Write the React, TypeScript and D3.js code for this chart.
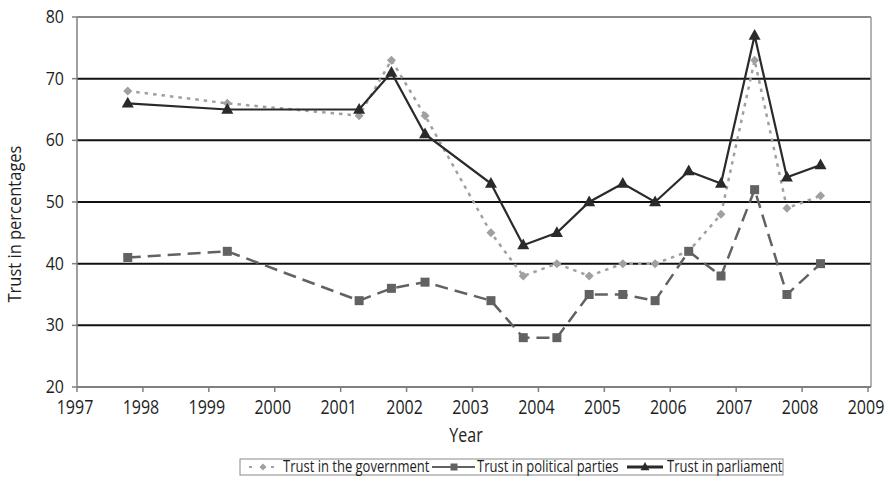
import React from "react";
import * as d3 from "d3";

const years = [1997.77, 1999.28, 2001.28, 2001.77, 2002.28, 2003.28, 2003.77, 2004.28, 2004.77, 2005.28, 2005.77, 2006.28, 2006.77, 2007.28, 2007.77, 2008.28];
const government = [68, 66, 64, 73, 64, 45, 38, 40, 38, 40, 40, 42, 48, 73, 49, 51];
const parties = [41, 42, 34, 36, 37, 34, 28, 28, 35, 35, 34, 42, 38, 52, 35, 40];
const parliament = [66, 65, 65, 71, 61, 53, 43, 45, 50, 53, 50, 55, 53, 77, 54, 56];
const xTicks = [1997, 1998, 1999, 2000, 2001, 2002, 2003, 2004, 2005, 2006, 2007, 2008, 2009];
const yTicks = [20, 30, 40, 50, 60, 70, 80];
const seriesNames = ["Trust in the government", "Trust in political parties", "Trust in parliament"];

const W = 892, H = 478;
const M = { left: 77, right: 21, top: 17, bottom: 91 };
const FONT = "'Open Sans', 'Noto Sans', sans-serif";

export default function App() {
  const x = d3.scaleLinear().domain([1997, 2009]).range([M.left, W - M.right - 3]);
  const y = d3.scaleLinear().domain([20, 80]).range([H - M.bottom, M.top]);
  const line = d3.line<number>().x((_, i) => x(years[i])).y((d) => y(d));
  const plotRight = W - M.right;
  const plotBottom = H - M.bottom;

  const diamond = (cx: number, cy: number, r: number) => `M${cx},${cy - r}L${cx + r},${cy}L${cx},${cy + r}L${cx - r},${cy}Z`;
  const tri = (cx: number, cy: number, r: number) => `M${cx},${cy - r * 1.1}L${cx + r},${cy + r * 0.7}L${cx - r},${cy + r * 0.7}Z`;

  const govColor = "#a0a0a0";
  const parColor = "#626262";
  const parlColor = "#2a2a2a";
  const txt = "#1e1e1e";

  const lx = 240, ly = 459, lw = 543, lh = 16;
  const lcy = ly + lh / 2;
  const S = "scale(1,1.22)";

  return (
    <svg width={W} height={H} style={{ position: "absolute", left: 0, top: 0, background: "#fff" }} fontFamily={FONT}>
      <rect x={0} y={0} width={W} height={H} fill="#fff" />
      {yTicks.filter((t) => t > 20 && t < 80).map((t) => (
        <line key={t} x1={M.left} x2={plotRight} y1={y(t)} y2={y(t)} stroke="#111" strokeWidth={2} />
      ))}
      <line x1={M.left} x2={plotRight} y1={y(80)} y2={y(80)} stroke="#8a8a8a" strokeWidth={2} />
      <line x1={plotRight} x2={plotRight} y1={y(80)} y2={plotBottom} stroke="#9a9a9a" strokeWidth={1.5} />
      <line x1={M.left} x2={M.left} y1={y(80)} y2={plotBottom} stroke="#808080" strokeWidth={1.5} />
      <line x1={M.left} x2={plotRight} y1={plotBottom} y2={plotBottom} stroke="#808080" strokeWidth={2} />
      {yTicks.map((t) => (
        <g key={t}>
          <line x1={M.left - 5} x2={M.left} y1={y(t)} y2={y(t)} stroke="#808080" strokeWidth={1.5} />
          <text transform={`translate(${M.left - 13},${y(t) + 6}) scale(1,1.12)`} textAnchor="end" fontSize={16} fill={txt}>{t}</text>
        </g>
      ))}
      {xTicks.map((t) => (
        <g key={t}>
          <line x1={x(t)} x2={x(t)} y1={plotBottom} y2={plotBottom + 5} stroke="#808080" strokeWidth={1.5} />
          <text transform={`translate(${x(t) - 2},${413.5}) ${S}`} textAnchor="middle" fontSize={16} fill={txt}>{t}</text>
        </g>
      ))}
      <text transform={`translate(466,442) ${S}`} textAnchor="middle" fontSize={16} fill={txt}>Year</text>
      <text transform={`translate(21,224) rotate(-90) scale(1,1.1)`} textAnchor="middle" fontSize={16.5} fill={txt}>Trust in percentages</text>

      <path d={line(government) || ""} fill="none" stroke={govColor} strokeWidth={2.5} strokeDasharray="3.5,5" />
      <path d={line(parties) || ""} fill="none" stroke={parColor} strokeWidth={2.5} strokeDasharray="13,7" />
      <path d={line(parliament) || ""} fill="none" stroke={parlColor} strokeWidth={2.2} />
      {government.map((v, i) => (
        <path key={"g" + i} d={diamond(x(years[i]), y(v), 4.5)} fill={govColor} />
      ))}
      {parties.map((v, i) => (
        <rect key={"p" + i} x={x(years[i]) - 4.5} y={y(v) - 4.5} width={9} height={9} fill={parColor} />
      ))}
      {parliament.map((v, i) => (
        <path key={"t" + i} d={tri(x(years[i]), y(v), 6)} fill={parlColor} />
      ))}

      <rect x={lx} y={ly} width={lw} height={lh} fill="#fff" stroke="#8a8a8a" strokeWidth={1} />
      <line x1={248} x2={280} y1={lcy} y2={lcy} stroke={govColor} strokeWidth={1.8} strokeDasharray="3,8" strokeDashoffset={-1} />
      <path d={diamond(263, lcy, 3.5)} fill={govColor} />
      <text transform={`translate(283,${lcy + 4.5}) ${S}`} fontSize={13} fill={txt}>{seriesNames[0]}</text>
      <line x1={432} x2={475} y1={lcy} y2={lcy} stroke={parColor} strokeWidth={1.8} />
      <rect x={450.5} y={lcy - 3.5} width={7} height={7} fill={parColor} />
      <text transform={`translate(477,${lcy + 4.5}) ${S}`} fontSize={13} fill={txt}>{seriesNames[1]}</text>
      <line x1={627} x2={663} y1={lcy} y2={lcy} stroke={parlColor} strokeWidth={3} />
      <path d={tri(645, lcy, 4.5)} fill={parlColor} />
      <text transform={`translate(667,${lcy + 4.5}) ${S}`} fontSize={13} fill={txt}>{seriesNames[2]}</text>
    </svg>
  );
}
